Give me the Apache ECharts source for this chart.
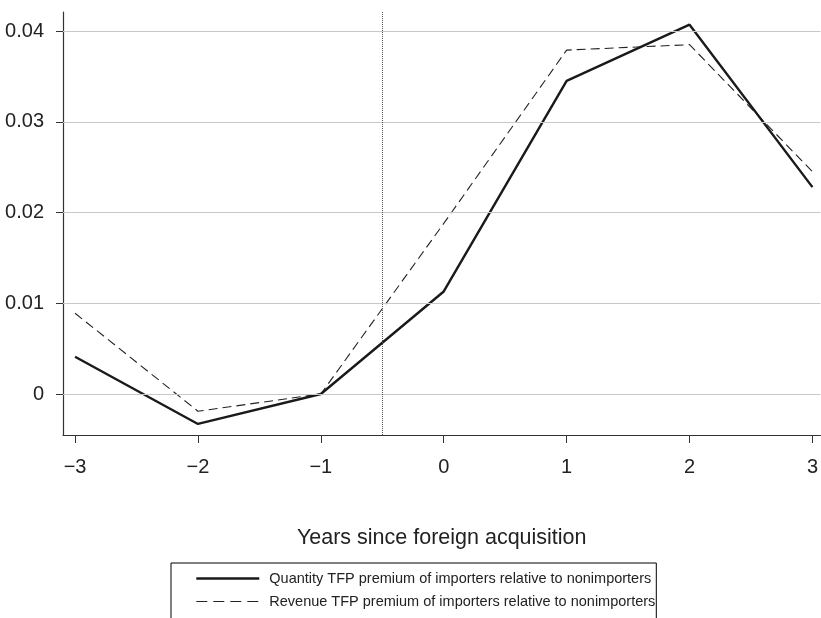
<!DOCTYPE html>
<html>
<head>
<meta charset="utf-8">
<script src="https://cdn.jsdelivr.net/npm/echarts@6/dist/echarts.min.js"></script>
<style>
  html, body { margin: 0; padding: 0; background: #fff; }
  #chart { width: 821px; height: 618px; }
</style>
</head>
<body>
<div id="chart"></div>
<script>
// ---- data ----
const years = [-3, -2, -1, 0, 1, 2, 3];
const quantityTFP = [0.0041, -0.0033, 0.0, 0.0113, 0.0345, 0.0407, 0.0228];
const revenueTFP  = [0.0089, -0.0019, 0.0, 0.0188, 0.0379, 0.0385, 0.0245];
const xTicks = [-3, -2, -1, 0, 1, 2, 3];
const yTicks = [0, 0.01, 0.02, 0.03, 0.04];
const seriesNames = [
  'Quantity TFP premium of importers relative to nonimporters',
  'Revenue TFP premium of importers relative to nonimporters'
];
const xAxisTitle = 'Years since foreign acquisition';
const eventLine = -0.5;

const FONT = '"Liberation Sans", Arial, Helvetica, sans-serif';
const chart = echarts.init(document.getElementById('chart'), null, { renderer: 'canvas' });

const fmtX = v => (v < 0 ? '\u2212' + Math.abs(v) : String(v));
const fmtY = v => (v === 0 ? '0' : v.toFixed(2));

chart.setOption({
  animation: false,
  backgroundColor: '#fff',
  grid: { left: 63, right: 0, top: 12, bottom: 183, containLabel: false },
  xAxis: {
    type: 'value',
    min: -3.098,
    max: 3.065,
    splitLine: { show: false },
    axisLine: { show: true, onZero: false, lineStyle: { color: '#333', width: 1.2 } },
    axisTick: { show: true, customValues: xTicks, length: 8, lineStyle: { color: '#333', width: 1 } },
    axisLabel: { customValues: xTicks, formatter: fmtX, margin: 22, fontSize: 20, fontFamily: FONT, color: '#222' },
    name: xAxisTitle,
    nameLocation: 'middle',
    nameGap: 92,
    nameTextStyle: { fontSize: 21.5, fontFamily: FONT, color: '#222' }
  },
  yAxis: {
    type: 'value',
    min: -0.00452,
    max: 0.0421,
    splitLine: { show: false },
    axisLine: { show: true, onZero: false, lineStyle: { color: '#333', width: 1.2 } },
    axisTick: { show: true, customValues: yTicks, length: 7, lineStyle: { color: '#333', width: 1 } },
    axisLabel: { customValues: yTicks, formatter: fmtY, margin: 19, fontSize: 20, fontFamily: FONT, color: '#222' }
  },
  legend: {
    orient: 'vertical',
    left: 171,
    top: 563,
    height: 300,
    padding: [8, 1, 30, 24],
    itemWidth: 63,
    itemHeight: 14,
    itemGap: 8,
    borderColor: '#000',
    borderWidth: 1,
    borderRadius: 0,
    itemStyle: { opacity: 0 },
    textStyle: { fontSize: 14.5, fontFamily: FONT, color: '#222', padding: [0, 0, 0, 5] },
    data: [
      { name: seriesNames[0], lineStyle: { width: 2.6 } },
      { name: seriesNames[1], lineStyle: { type: [11, 6], width: 1.2 } }
    ]
  },
  series: [
    {
      name: 'grid',
      type: 'line',
      data: [],
      z: 1,
      silent: true,
      markLine: {
        silent: true,
        symbol: 'none',
        label: { show: false },
        lineStyle: { color: '#c8c8c8', width: 1.2, type: 'solid' },
        data: yTicks.map(v => ({ yAxis: v }))
      }
    },
    {
      name: 'event',
      type: 'line',
      data: [],
      z: 2,
      silent: true,
      markLine: {
        silent: true,
        symbol: 'none',
        label: { show: false },
        lineStyle: { color: '#555', width: 1, type: 'dotted' },
        data: [{ xAxis: eventLine }]
      }
    },
    {
      name: seriesNames[1],
      type: 'line',
      z: 3,
      symbol: 'none',
      data: years.map((x, i) => [x, revenueTFP[i]]),
      lineStyle: { color: '#222', width: 1.1, type: [9, 5] },
      itemStyle: { color: '#222' }
    },
    {
      name: seriesNames[0],
      type: 'line',
      z: 4,
      symbol: 'none',
      data: years.map((x, i) => [x, quantityTFP[i]]),
      lineStyle: { color: '#1a1a1a', width: 2.4, type: 'solid' },
      itemStyle: { color: '#1a1a1a' }
    }
  ]
});
</script>
</body>
</html>
